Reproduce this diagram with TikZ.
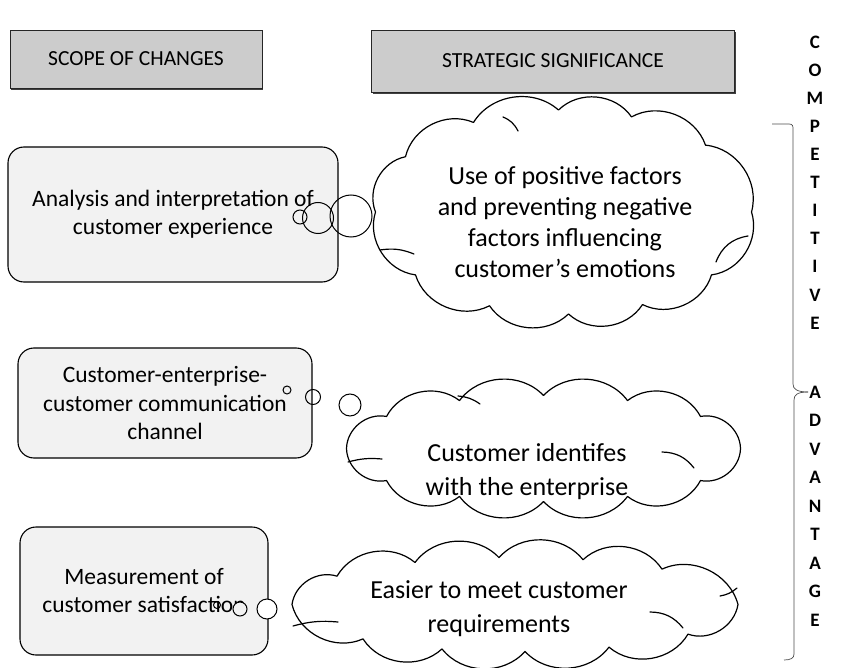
\documentclass[tikz,border=0pt]{standalone}
\usepackage{fontspec}
\setmainfont{Carlito}
\usetikzlibrary{shadows}
\tikzset{
 hdr/.style={draw=black!85, fill=black!20, line width=0.9pt, inner sep=0pt, font=\fontsize{21.5}{24}\selectfont,
   drop shadow={shadow xshift=1.2pt, shadow yshift=-1.8pt, fill=black!75, opacity=1}},
 scopebox/.style={draw=black, line width=1.1pt, rounded corners=16pt, fill=black!5, align=center, inner sep=0pt,
   font=\fontsize{23.5}{28}\selectfont},
 cloudline/.style={draw=black, line width=1.2pt, fill=white, line join=round},
 innerarc/.style={draw=black, line width=1.2pt, line cap=round},
 cloudtext/.style={align=center, inner sep=0pt, font=\fontsize{26}{34}\selectfont},
 bub/.style={circle, draw=black, line width=1pt, inner sep=0pt},
 letter/.style={font=\fontsize{19}{20}\selectfont\bfseries, text=black, inner sep=0pt},
 brk/.style={draw=black!70, line width=0.7pt}
}
\def\cbend{50}
% cloud: centre x, centre y, rx, ry, top offsets, bottom offsets
\newcommand\mycloud[6]{%
  \draw[cloudline] (#1-#3,#2)
   \foreach \u in {#5} { to[bend left=\cbend] ({#1+\u},{#2-#4*sqrt(max(0,1-(\u/#3)^2))}) }
   to[bend left=\cbend] (#1+#3,#2)
   \foreach \u in {#6} { to[bend left=\cbend] ({#1+\u},{#2+#4*sqrt(max(0,1-(\u/#3)^2))}) }
   to[bend left=\cbend] (#1-#3,#2);
}
\begin{document}
\begin{tikzpicture}[x=1pt,y=-1pt]
\useasboundingbox (0,0) rectangle (848,668);
% headers
\node[hdr, minimum width=252pt, minimum height=58pt] (h1) at (136,59) {SCOPE OF CHANGES};
\node[hdr, minimum width=363pt, minimum height=62pt] (h2) at (553,61) {STRATEGIC SIGNIFICANCE};
% scope boxes
\node[scopebox, minimum width=330pt, minimum height=135pt] (a) at (173,214.5) {Analysis and interpretation of\\customer experience};
\node[scopebox, minimum width=294pt, minimum height=110pt] (b) at (165,403) {Customer-enterprise-\\customer communication\\channel};
\node[scopebox, minimum width=248pt, minimum height=128pt] (c) at (144,591) {Measurement of\\customer satisfaction};
% clouds
\mycloud{563.5}{212}{188}{102}{-158,-90,-5,68,142}{148,79,5,-74,-148}
\mycloud{543.5}{448.5}{197}{53}{-157,-84,0,84,157}{157,84,0,-84,-157}
\mycloud{515}{604.5}{223}{47}{-178,-100,-16,68,147}{173,94,10,-73,-152}
% inner strokes of the clouds
\draw[innerarc] (380,250) to[bend left=15] (414,254);
\draw[innerarc] (748,236) to[bend right=30] (716,262);
\draw[innerarc] (503,117) to[bend left=20] (518,131);
\draw[innerarc] (348,462) to[bend left=10] (382,459);
\draw[innerarc] (662,452) to[bend left=25] (694,468);
\draw[innerarc] (458,396) to[bend left=15] (480,404);
\draw[innerarc] (293,626) to[bend left=10] (338,622);
\draw[innerarc] (650,612) to[bend left=25] (683,628);
\draw[innerarc] (720,596) to[bend right=15] (737,588);
% cloud texts
\node[cloudtext, font=\fontsize{26}{31}\selectfont] (k1) at (565,222) {Use of positive factors\\and preventing negative\\factors influencing\\customer’s emotions};
\node[cloudtext] (k2) at (527,472) {Customer identifes\\with the enterprise};
\node[cloudtext] (k3) at (499,609) {Easier to meet customer\\requirements};
% thought bubbles
\node[bub, minimum size=14pt] (a1) at (300,217) {};
\node[bub, minimum size=31pt] (a2) at (318,218) {};
\node[bub, minimum size=42pt] (a3) at (351,216) {};
\node[bub, minimum size=8pt] (b1) at (287,390) {};
\node[bub, minimum size=15pt] (b2) at (313,397) {};
\node[bub, minimum size=22pt] (b3) at (350,405) {};
\node[bub, minimum size=7pt] (c1) at (217,605) {};
\node[bub, fill=black!5, minimum size=14pt] (c2) at (240,609) {};
\node[bub, fill=white, minimum size=20pt] (c3) at (267,609) {};
% bracket
\coordinate (bt) at (772,124);
\coordinate (bm) at (808,392);
\coordinate (bb) at (784,660);
\draw[brk] (bt) -- (789,124) .. controls (793,124) and (793,126) .. (793,130) -- (793,384)
  .. controls (793,389) and (797,392) .. (bm);
\draw[brk] (bm) .. controls (797,392) and (794,395) .. (794,400) -- (794,654)
  .. controls (794,658) and (791,660) .. (bb);
% letters
\foreach \l [count=\i] in {C,O,M,P,E,T,I,T,I,V,E}
  \node[letter] (t\i) at (815,{42+28.1*(\i-1)}) {\l};
\foreach \l [count=\i] in {A,D,V,A,N,T,A,G,E}
  \node[letter] (u\i) at (815,{392+28.5*(\i-1)}) {\l};
\end{tikzpicture}
\end{document}
